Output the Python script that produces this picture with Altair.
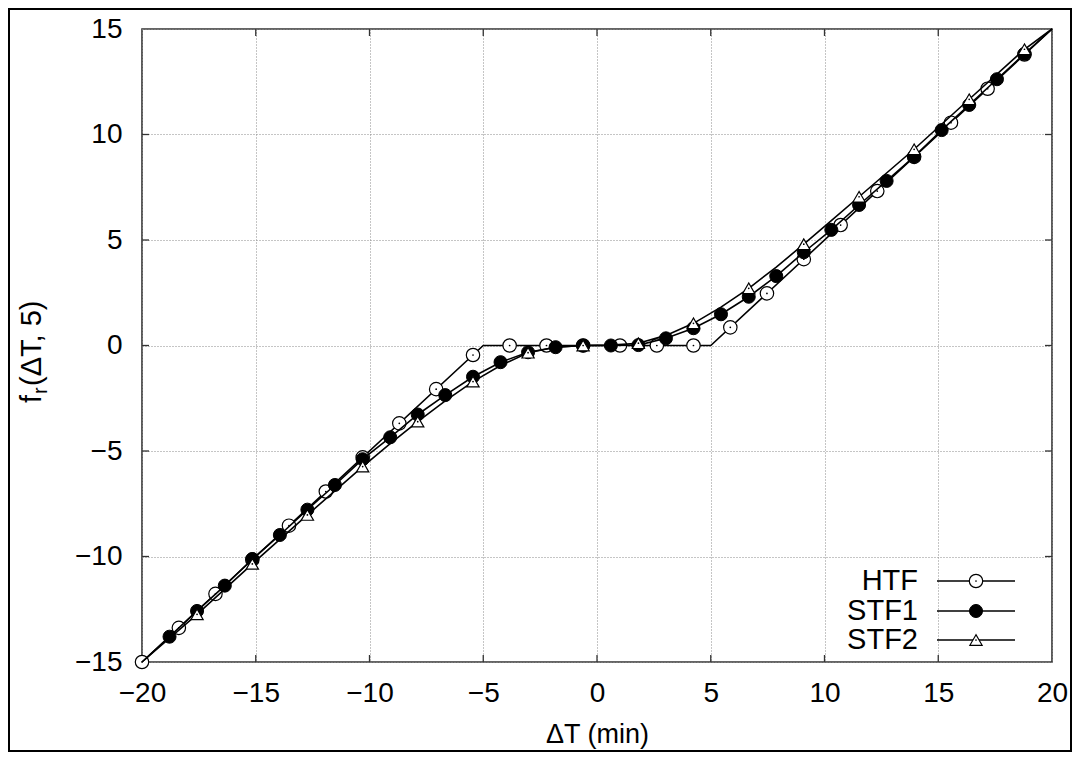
import altair as alt
import pandas as pd

# ---------------- data ----------------
x_ticks = [-20, -15, -10, -5, 0, 5, 10, 15, 20]
y_ticks = [-15, -10, -5, 0, 5, 10, 15]
inner_x_ticks = [-15, -10, -5, 0, 5, 10, 15]
inner_y_ticks = [-10, -5, 0, 5, 10]

series_names = ["HTF", "STF1", "STF2"]

# HTF: markers (open circles) and the line's vertices
htf_x = [-20, -18.38, -16.77, -15.15, -13.54, -11.92, -10.30, -8.69, -7.07, -5.45,
         -3.84, -2.22, -0.61, 1.01, 2.63, 4.24, 5.86, 7.47, 9.09, 10.71,
         12.32, 13.94, 15.56, 17.17, 18.79]
htf_y = [-15, -13.38, -11.77, -10.15, -8.54, -6.92, -5.30, -3.69, -2.07, -0.45,
         0, 0, 0, 0, 0, 0, 0.86, 2.47, 4.09, 5.71,
         7.32, 8.94, 10.56, 12.17, 13.79]
htf_line_x = [-20, -5, 5, 20]
htf_line_y = [-15, 0, 0, 15]

# STF1: markers (filled circles)
stf1_x = [-18.79, -17.58, -16.36, -15.15, -13.94, -12.73, -11.52, -10.30, -9.09, -7.88,
          -6.67, -5.45, -4.24, -3.03, -1.82, -0.61, 0.61, 1.82, 3.03, 4.24,
          5.45, 6.67, 7.88, 9.09, 10.30, 11.52, 12.73, 13.94, 15.15, 16.36,
          17.58, 18.79]
stf1_y = [-13.80, -12.58, -11.38, -10.12, -8.98, -7.78, -6.61, -5.39, -4.35, -3.27,
          -2.35, -1.48, -0.79, -0.32, -0.08, 0.0, 0.0, 0.02, 0.34, 0.82,
          1.48, 2.31, 3.29, 4.42, 5.48, 6.66, 7.80, 8.95, 10.21, 11.40,
          12.62, 13.82]
stf1_line_x = [-20] + stf1_x + [20]
stf1_line_y = [-15] + stf1_y + [15]

# STF2: markers (open triangles) and the line's vertices
stf2_x = [-17.58, -15.15, -12.73, -10.30, -7.88, -5.45, -3.03, -0.61, 1.82, 4.24,
          6.67, 9.09, 11.52, 13.94, 16.36, 18.79]
stf2_y = [-12.74, -10.35, -8.03, -5.74, -3.61, -1.71, -0.34, 0.0, 0.11, 1.05,
          2.71, 4.80, 7.05, 9.30, 11.67, 14.04]
stf2_line_x = [-20, -17.58, -15.15, -12.73, -10.30, -9.09, -7.88, -6.67, -5.45, -4.24,
               -3.03, -1.82, -0.61, 0.61, 1.82, 3.03, 4.24, 5.45, 6.67, 7.88,
               9.09, 10.30, 11.52, 13.94, 16.36, 18.79, 20]
stf2_line_y = [-15, -12.74, -10.35, -8.03, -5.74, -4.65, -3.61, -2.62, -1.71, -0.95,
               -0.34, -0.08, 0.0, 0.02, 0.11, 0.48, 1.05, 1.82, 2.71, 3.72,
               4.80, 5.92, 7.05, 9.30, 11.67, 14.04, 15]

# ---------------- chart ----------------
FONT = "Liberation Sans"
W, H = 910, 633
BORDER = "#333333"

xs = alt.Scale(domain=[-20, 20], nice=False, zero=False)
ys = alt.Scale(domain=[-15, 15], nice=False, zero=False)
X_AX = alt.Axis(values=x_ticks, title="ΔT (min)", format="d")
Y_AX = alt.Axis(values=y_ticks, title=None, format="d")


def X(f):
    return alt.X(f"{f}:Q", scale=xs, axis=X_AX)


def Y(f):
    return alt.Y(f"{f}:Q", scale=ys, axis=Y_AX)


def df(xv, yv):
    return pd.DataFrame({"x": xv, "y": yv})


def line_layer(xv, yv):
    return alt.Chart(df(xv, yv)).mark_line(color="black", strokeWidth=1.6).encode(
        x=X("x"), y=Y("y"), order="x:Q")


def open_circles(xv, yv):
    return alt.Chart(df(xv, yv)).mark_point(
        shape="circle", filled=True, fill="white", stroke="black",
        strokeWidth=1.2, size=180, opacity=1).encode(x=X("x"), y=Y("y"))


def filled_circles(xv, yv):
    return alt.Chart(df(xv, yv)).mark_point(
        shape="circle", filled=True, fill="black", stroke="black",
        strokeWidth=1, size=170, opacity=1).encode(x=X("x"), y=Y("y"))


def triangles(xv, yv):
    return alt.Chart(df(xv, yv)).mark_point(
        shape="triangle-up", filled=True, fill="white", stroke="black",
        strokeWidth=1.2, size=150, opacity=1).encode(x=X("x"), y=Y("y"))


def dots(xv, yv):
    return alt.Chart(df(xv, yv)).mark_point(
        shape="circle", filled=True, fill="black", size=3, opacity=1).encode(
        x=X("x"), y=Y("y"))


# inward tick marks on all four sides
txd = pd.DataFrame({"t": inner_x_ticks})
tyd = pd.DataFrame({"t": inner_y_ticks})
tick_bottom = alt.Chart(txd).mark_rule(color=BORDER, strokeWidth=1.3).encode(
    x=X("t"), y=alt.value(H), y2=alt.value(H - 7))
tick_top = alt.Chart(txd).mark_rule(color=BORDER, strokeWidth=1.3).encode(
    x=X("t"), y=alt.value(0), y2=alt.value(7))
tick_left = alt.Chart(tyd).mark_rule(color=BORDER, strokeWidth=1.3).encode(
    y=Y("t"), x=alt.value(0), x2=alt.value(7))
tick_right = alt.Chart(tyd).mark_rule(color=BORDER, strokeWidth=1.3).encode(
    y=Y("t"), x=alt.value(W), x2=alt.value(W - 7))

one = pd.DataFrame({"k": [0]})

# outer frame of the figure
frame = alt.Chart(one).mark_rect(
    fillOpacity=0, stroke="black", strokeWidth=2).encode(
    x=alt.value(-133), x2=alt.value(929), y=alt.value(-20), y2=alt.value(722))

# y-axis title f_r(ΔT, 5), written with a subscript
yt_f = alt.Chart(one).mark_text(
    text="f", font=FONT, fontSize=29, angle=270, align="left",
    baseline="alphabetic", color="black").encode(x=alt.value(-101), y=alt.value(374))
yt_r = alt.Chart(one).mark_text(
    text="r", font=FONT, fontSize=20, angle=270, align="left",
    baseline="alphabetic", color="black").encode(x=alt.value(-95), y=alt.value(365))
yt_rest = alt.Chart(one).mark_text(
    text="(ΔT, 5)", font=FONT, fontSize=29, angle=270, align="left",
    baseline="alphabetic", color="black").encode(x=alt.value(-101), y=alt.value(357))

# legend (lower right, inside the plot)
leg_rows = [552, 582, 611]
leg_layers = []
for name, ry in zip(series_names, leg_rows):
    leg_layers.append(alt.Chart(one).mark_text(
        text=name, font=FONT, fontSize=29, align="right", baseline="middle",
        color="black").encode(x=alt.value(776), y=alt.value(ry)))
    leg_layers.append(alt.Chart(one).mark_rule(color="black", strokeWidth=1.6).encode(
        x=alt.value(795), x2=alt.value(873), y=alt.value(ry)))

leg_htf = alt.Chart(one).mark_point(
    shape="circle", filled=True, fill="white", stroke="black", strokeWidth=1.2,
    size=180, opacity=1).encode(x=alt.value(834), y=alt.value(leg_rows[0]))
leg_htf_dot = alt.Chart(one).mark_point(
    shape="circle", filled=True, fill="black", size=3, opacity=1).encode(
    x=alt.value(834), y=alt.value(leg_rows[0]))
leg_stf1 = alt.Chart(one).mark_point(
    shape="circle", filled=True, fill="black", stroke="black", strokeWidth=1,
    size=170, opacity=1).encode(x=alt.value(834), y=alt.value(leg_rows[1]))
leg_stf2 = alt.Chart(one).mark_point(
    shape="triangle-up", filled=True, fill="white", stroke="black", strokeWidth=1.2,
    size=150, opacity=1).encode(x=alt.value(834), y=alt.value(leg_rows[2]))
leg_stf2_dot = alt.Chart(one).mark_point(
    shape="circle", filled=True, fill="black", size=3, opacity=1).encode(
    x=alt.value(834), y=alt.value(leg_rows[2]))

chart = alt.layer(
    frame,
    tick_bottom, tick_top, tick_left, tick_right,
    line_layer(htf_line_x, htf_line_y),
    open_circles(htf_x, htf_y),
    dots(htf_x, htf_y),
    line_layer(stf1_line_x, stf1_line_y),
    filled_circles(stf1_x, stf1_y),
    line_layer(stf2_line_x, stf2_line_y),
    triangles(stf2_x, stf2_y),
    dots(stf2_x, stf2_y),
    yt_f, yt_r, yt_rest,
    *leg_layers,
    leg_htf, leg_htf_dot, leg_stf1, leg_stf2, leg_stf2_dot,
).properties(
    width=W, height=H,
    autosize=alt.AutoSizeParams(type="none"),
    padding={"left": 134, "top": 21, "right": 20, "bottom": 90},
).configure_view(
    stroke=BORDER, strokeWidth=1.6
).configure_axis(
    domain=False, ticks=False, grid=True,
    gridColor="#8a8a8a", gridDash=[1, 2], gridWidth=1,
    labelFont=FONT, labelFontSize=28, labelColor="black", labelFlush=False,
    titleFont=FONT, titleFontSize=27, titleColor="black", titleFontWeight="normal",
).configure_axisX(
    labelPadding=17, titlePadding=14
).configure_axisY(
    labelPadding=20
)

chart.save("out.html", embed_options={"renderer": "svg", "actions": False})
